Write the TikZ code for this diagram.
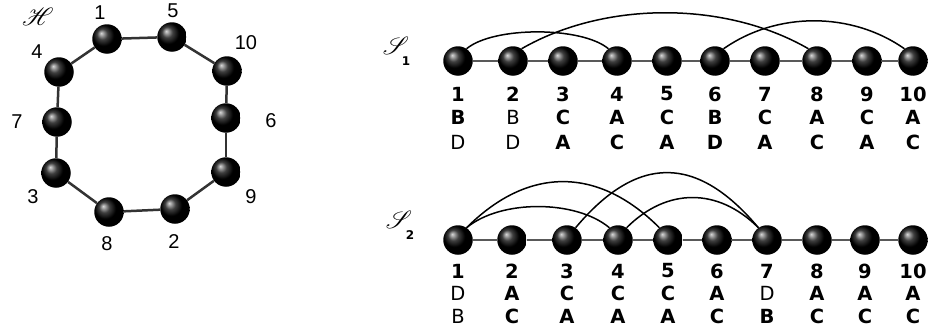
\documentclass[tikz,border=0pt]{standalone}
\usepackage{fontspec}
\usepackage{mathrsfs}
\setmainfont{Liberation Sans}
\newfontfamily\dvs{DejaVu Sans}
\tikzset{
  ballnode/.style={circle, minimum size=29.5pt, inner sep=0pt, shading=ball, ball color=black},
  hedge/.style={line width=2.5pt, draw=black!80},
  chainline/.style={line width=2pt, draw=black!65},
  contact/.style={line width=1.5pt, draw=black},
  hlbl/.style={font=\fontsize{20}{22}\selectfont, inner sep=0pt},
  slbl/.style={font=\dvs\fontsize{19.5}{21}\selectfont, inner sep=0pt},
  numlbl/.style={font=\dvs\bfseries\fontsize{19.5}{21}\selectfont, inner sep=0pt},
  subl/.style={font=\dvs\bfseries\fontsize{12}{14}\selectfont, inner sep=0pt},
  mathlbl/.style={font=\fontsize{26}{28}\selectfont, inner sep=0pt}
}
\begin{document}
\begin{tikzpicture}[x=1pt,y=1pt]
\useasboundingbox (0,0) rectangle (929,333);
% ---------- H (cycle) ----------
\node[ballnode] (h1)  at (107,294) {};
\node[ballnode] (h5)  at (172,296) {};
\node[ballnode] (h10) at (227,262) {};
\node[ballnode] (h6)  at (226,215) {};
\node[ballnode] (h9)  at (226,161) {};
\node[ballnode] (h2)  at (175,124) {};
\node[ballnode] (h8)  at (109,121) {};
\node[ballnode] (h3)  at (56,160) {};
\node[ballnode] (h7)  at (57,211) {};
\node[ballnode] (h4)  at (59,261) {};
\draw[hedge] (h1) -- (h5);
\draw[hedge] (h5) -- (h10);
\draw[hedge] (h10) -- (h6);
\draw[hedge] (h6) -- (h9);
\draw[hedge] (h9) -- (h2);
\draw[hedge] (h2) -- (h8);
\draw[hedge] (h8) -- (h3);
\draw[hedge] (h3) -- (h7);
\draw[hedge] (h7) -- (h4);
\draw[hedge] (h4) -- (h1);
\node[hlbl] (l1)  at (100,320) {1};
\node[hlbl] (l5)  at (173,322) {5};
\node[hlbl] (l10) at (246,290) {10};
\node[hlbl] (l6)  at (271,212) {6};
\node[hlbl] (l9)  at (251,136) {9};
\node[hlbl] (l2)  at (174,91) {2};
\node[hlbl] (l8)  at (107,89) {8};
\node[hlbl] (l3)  at (33,136) {3};
\node[hlbl] (l7)  at (17,211) {7};
\node[hlbl] (l4)  at (37,281) {4};
\node[mathlbl] (hname) at (38,316) {$\mathscr{H}$};
% ---------- S1 ----------
\node[mathlbl] (s1name) at (396,287) {$\mathscr{S}$};
\node[subl] (s1sub) at (406,272) {1};
\foreach \i/\x in {1/458,2/513,3/563,4/617,5/667,6/715,7/765,8/817,9/867,10/913}
  \node[ballnode] (s1b\i) at (\x,272) {};
\foreach \i [evaluate=\i as \j using int(\i+1)] in {1,...,9}
  \draw[chainline] (s1b\i) -- (s1b\j);
\draw[contact] (s1b1.55) .. controls +(40:35) and +(140:35) .. (s1b4.125);
\draw[contact] (s1b2.55) .. controls +(30:96) and +(150:96) .. (s1b8.125);
\draw[contact] (s1b6.55) .. controls +(35:65) and +(145:65) .. (s1b10.125);
\foreach \i/\x/\a/\b in {1/458/\bfseries B/\mdseries D, 2/513/\mdseries B/\mdseries D,
  3/563/\bfseries C/\bfseries A, 4/617/\bfseries A/\bfseries C, 5/667/\bfseries C/\bfseries A,
  6/715/\bfseries B/\bfseries D, 7/765/\bfseries C/\bfseries A, 8/817/\bfseries A/\bfseries C,
  9/867/\bfseries C/\bfseries A, 10/913/\bfseries A/\bfseries C}{
  \node[numlbl] (s1n\i) at (\x,239) {\i};
  \node[slbl] (s1p\i) at (\x,216) {\a};
  \node[slbl] (s1q\i) at (\x,191) {\b};
}
% ---------- S2 ----------
\node[mathlbl] (s2name) at (399,113) {$\mathscr{S}$};
\node[subl] (s2sub) at (410,98) {2};
\foreach \i/\x in {1/458,2/512,3/567,4/618,5/668,6/717,7/767,8/817,9/865,10/913}
  \node[ballnode] (s2b\i) at (\x,93) {};
\foreach \i [evaluate=\i as \j using int(\i+1)] in {1,...,9}
  \draw[chainline] (s2b\i) -- (s2b\j);
\draw[contact] (s2b1.55) .. controls +(40:44) and +(140:44) .. (s2b4.125);
\draw[contact] (s2b1.55) .. controls +(45:87) and +(135:87) .. (s2b5.125);
\draw[contact] (s2b3.55) .. controls +(50:96) and +(130:96) .. (s2b7.125);
\draw[contact] (s2b4.55) .. controls +(45:57) and +(135:57) .. (s2b7.125);
\foreach \i/\x/\a/\b in {1/458/\mdseries D/\mdseries B, 2/512/\bfseries A/\bfseries C,
  3/567/\bfseries C/\bfseries A, 4/618/\bfseries C/\bfseries A, 5/668/\bfseries C/\bfseries A,
  6/717/\bfseries A/\bfseries C, 7/767/\mdseries D/\bfseries B, 8/817/\bfseries A/\bfseries C,
  9/865/\bfseries A/\bfseries C, 10/913/\bfseries A/\bfseries C}{
  \node[numlbl] (s2n\i) at (\x,62) {\i};
  \node[slbl] (s2p\i) at (\x,40) {\a};
  \node[slbl] (s2q\i) at (\x,17) {\b};
}
\end{tikzpicture}
\end{document}
